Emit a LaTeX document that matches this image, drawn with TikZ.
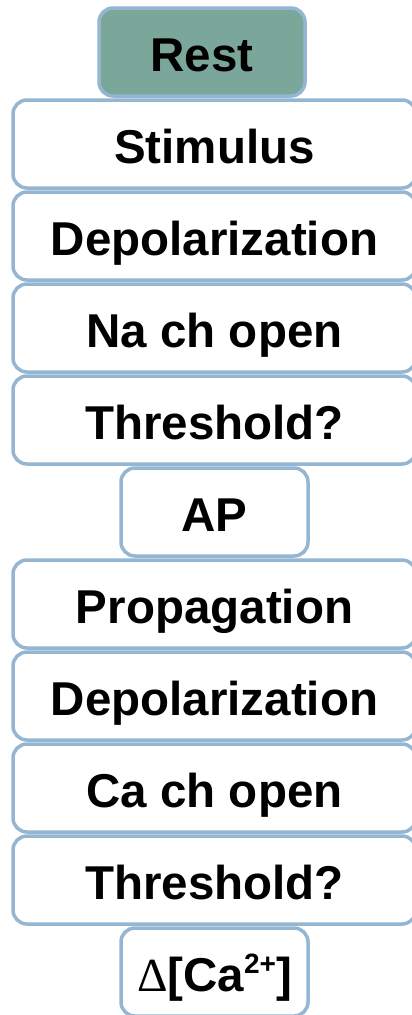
\documentclass[tikz,border=0pt]{standalone}
\usepackage{fontspec}
\setmainfont{Liberation Sans}
\newfontfamily\serifdelta{Liberation Serif}
\definecolor{edgeblue}{RGB}{148,182,210}
\definecolor{restfill}{RGB}{123,167,155}
\begin{document}
\begin{tikzpicture}[x=1pt,y=-1pt,
  box/.style={draw=edgeblue, line width=3.5pt, rounded corners=14pt, fill=white,
    font=\fontsize{47.5}{50}\selectfont\bfseries, text height=39pt, text depth=0pt,
    inner sep=0pt, minimum height=88pt},
  wide/.style={box, minimum width=403pt},
  narrow/.style={box, minimum width=187pt},
]
\useasboundingbox (0,0) rectangle (412,1015);
\node[box, minimum width=206pt, fill=restfill] (rest) at (202,52) {Rest};
\node[wide] (stim) at (214.5,144) {Stimulus};
\node[wide] (depol1) at (214.5,236) {Depolarization};
\node[wide] (na) at (214.5,328) {Na ch open};
\node[wide] (thr1) at (214.5,420) {Threshold?};
\node[narrow] (ap) at (214.5,512) {AP};
\node[wide] (prop) at (214.5,604) {Propagation};
\node[wide] (depol2) at (214.5,696) {Depolarization};
\node[wide] (ca) at (214.5,788) {Ca ch open};
\node[wide] (thr2) at (214.5,880) {Threshold?};
\node[narrow] (dca) at (214.5,972) {{\serifdelta\mdseries Δ}[Ca\raisebox{18pt}{\fontsize{28}{28}\selectfont 2+}]};
\end{tikzpicture}
\end{document}
